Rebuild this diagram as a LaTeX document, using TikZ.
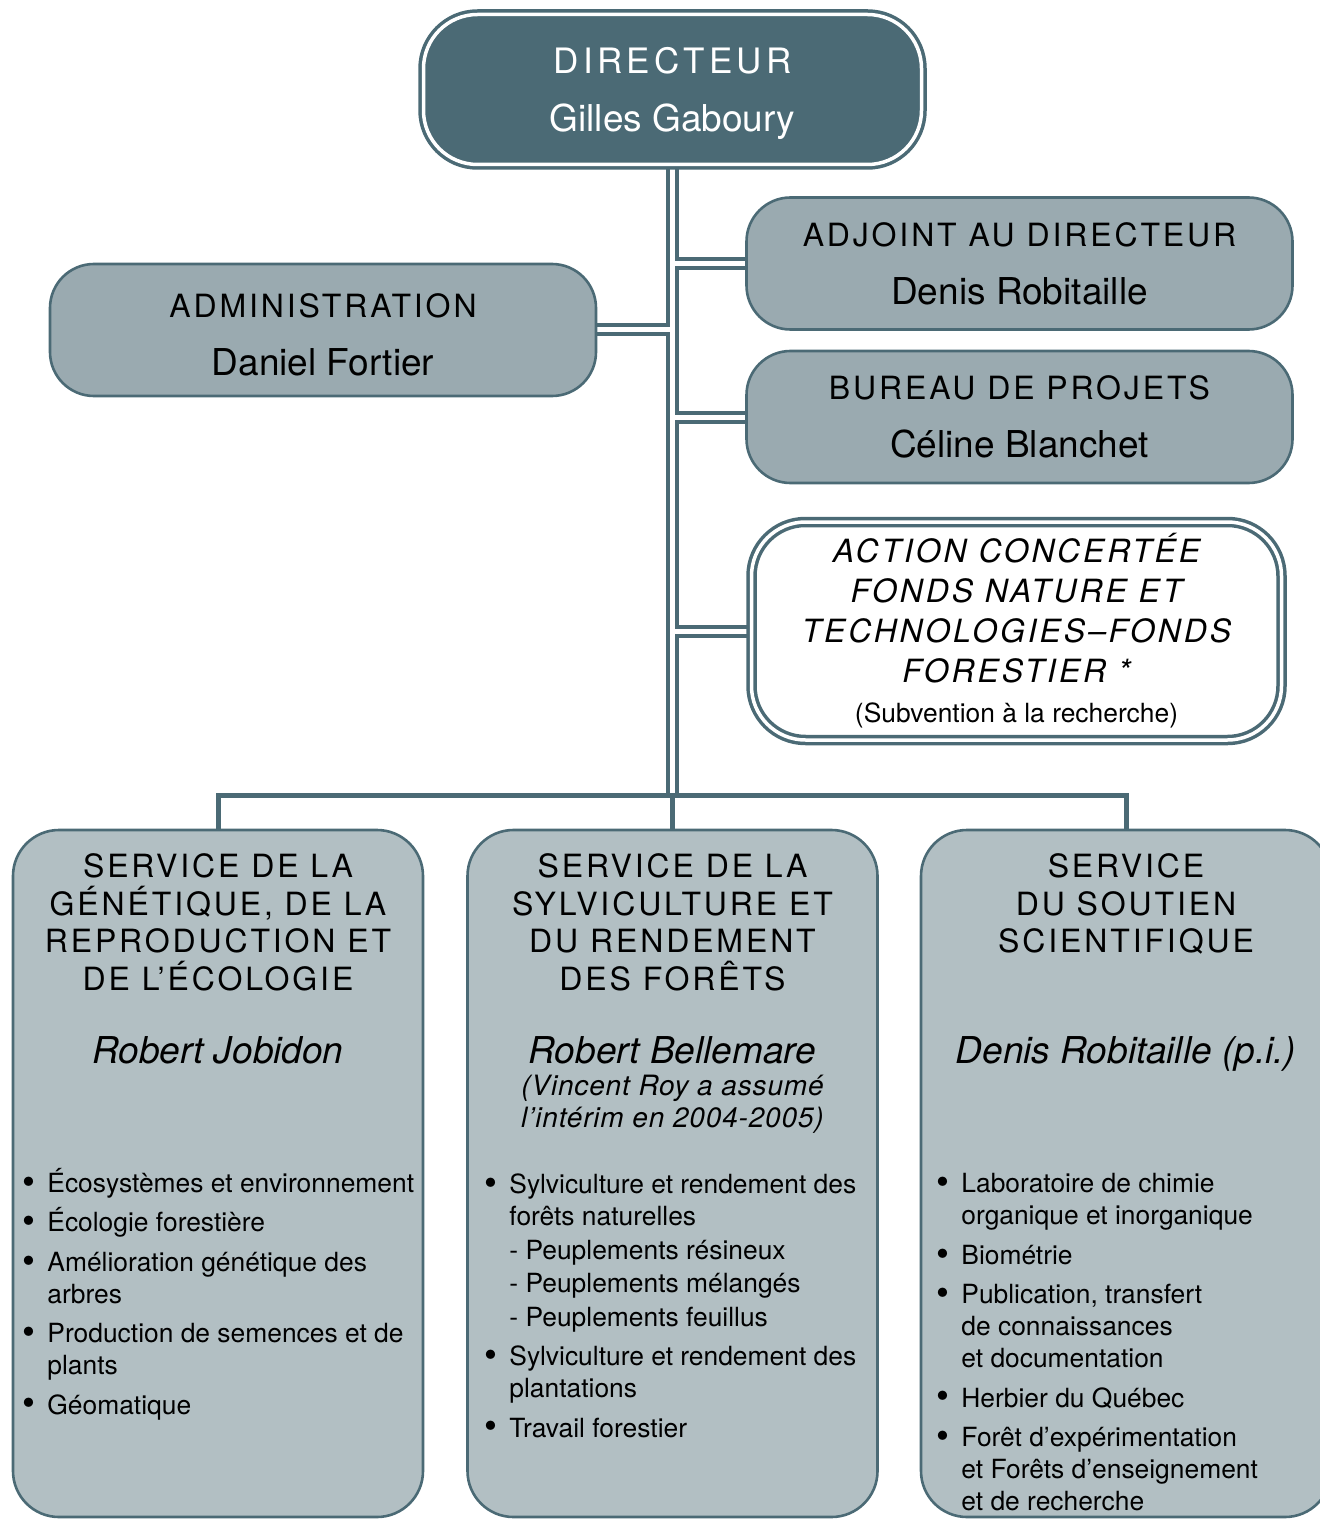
\documentclass[tikz,border=0pt]{standalone}
\usepackage{fontspec}
\setmainfont{TeX Gyre Heros}
\newfontfamily\spacedfont[LetterSpace=9]{TeX Gyre Heros}
\newfontfamily\widefont[LetterSpace=12]{TeX Gyre Heros}
\newfontfamily\notefont[LetterSpace=3]{TeX Gyre Heros}
\usetikzlibrary{positioning,backgrounds}
\definecolor{orgteal}{HTML}{4B6A75}
\definecolor{unitgray}{HTML}{9AAAB0}
\definecolor{servgray}{HTML}{B2BFC3}
\newcommand{\capsize}{\fontsize{16}{18.75}\selectfont}
\newcommand{\namefont}{\fontsize{18.5}{29}\selectfont}
\newcommand{\listfont}{\fontsize{13.2}{16}\selectfont}
\newcommand{\itm}{\makebox[12.3pt][l]{\raisebox{-0.9pt}{\scalebox{1.4}{\textbullet}}}}
\newcommand{\cnt}{\hspace*{12.3pt}}

\begin{document}
\begin{tikzpicture}[
  x=0.5pt, y=-0.5pt,
  chief/.style={draw=orgteal, fill=orgteal, double=white, line width=1.75pt, double distance=1.75pt, rounded corners=27pt, minimum width=249pt, minimum height=75pt, align=center, text=white, text depth=0pt, font=\namefont},
  unit/.style={draw=orgteal, fill=unitgray, line width=1.3pt, rounded corners=22pt, minimum width=273pt, minimum height=66pt, align=center, text depth=0pt, font=\namefont},
  fund/.style={draw=orgteal, fill=white, double=white, line width=1.75pt, double distance=1.75pt, rounded corners=27pt, minimum width=265pt, minimum height=109pt, align=center, font=\spacedfont\itshape\fontsize{16}{20}\selectfont},
  service/.style={draw=orgteal, fill=servgray, line width=1.3pt, rounded corners=23pt, minimum width=205pt, minimum height=343.5pt},
  link/.style={draw=orgteal, double=white, line width=2pt, double distance=2.5pt},
  bar/.style={draw=orgteal, line width=2.5pt},
  servhead/.style={font=\spacedfont\capsize, align=center, anchor=base},
  servchief/.style={font=\namefont\itshape, anchor=base},
  note/.style={font=\notefont\itshape\fontsize{14}{16}\selectfont, align=center, anchor=base},
  duties/.style={font=\listfont, align=left, anchor=base west, inner sep=0pt}
]
\useasboundingbox (0,0) rectangle (1320,1519);

% direction
\node[chief] (chief) at (672.5,89.5) {{\widefont\fontsize{17.5}{29}\selectfont DIRECTEUR}\\Gilles Gaboury};
\node[unit, text height=45.5pt] (admin) at (323,330) {{\spacedfont\capsize ADMINISTRATION}\\Daniel Fortier};
\node[unit] (adjoint) at (1019.5,263.5) {{\spacedfont\capsize ADJOINT AU DIRECTEUR}\\Denis Robitaille};
\node[unit] (bureau) at (1019.5,417) {{\spacedfont\capsize BUREAU DE PROJETS}\\Céline Blanchet};
\node[fund] (fund) at (1016.5,631) {ACTION CONCERTÉE\\FONDS NATURE ET\\TECHNOLOGIES–FONDS\\FORESTIER *\\{\normalfont\listfont (Subvention à la recherche)}};

% services
\node[service] (gen) at (218,1173.5) {};
\node[service] (syl) at (672.5,1173.5) {};
\node[service] (sou) at (1126,1173.5) {};

% multi-line nodes: base = last line
\node[servhead] (genhead) at (218,990) {SERVICE DE LA\\GÉNÉTIQUE, DE LA\\REPRODUCTION ET\\DE L’ÉCOLOGIE};
\node[servhead] (sylhead) at (672.5,990) {SERVICE DE LA\\SYLVICULTURE ET\\DU RENDEMENT\\DES FORÊTS};
\node[servhead] (souhead) at (1126,952.5) {SERVICE\\DU SOUTIEN\\SCIENTIFIQUE};

\node[servchief] (genchief) at (218,1063) {Robert Jobidon};
\node[servchief] (sylchief) at (672.5,1063) {Robert Bellemare};
\node[note] (sylnote) at (672.5,1127) {(Vincent Roy a assumé\\l’intérim en 2004-2005)};
\node[servchief] (souchief) at (1126,1063) {Denis Robitaille (p.i.)};

\node[duties] (genlist) at (22.4,1414) {\itm Écosystèmes et environnement\\[3.7pt]
  \itm Écologie forestière\\[3.7pt]
  \itm Amélioration génétique des\\
  \cnt arbres\\[3.7pt]
  \itm Production de semences et de\\
  \cnt plants\\[3.7pt]
  \itm Géomatique};
\node[duties] (syllist) at (484.4,1437) {\itm Sylviculture et rendement des\\
  \cnt forêts naturelles\\[0.8pt]
  \cnt - Peuplements résineux\\[0.8pt]
  \cnt - Peuplements mélangés\\[0.8pt]
  \cnt - Peuplements feuillus\\[3.7pt]
  \itm Sylviculture et rendement des\\
  \cnt plantations\\[3.7pt]
  \itm Travail forestier};
\node[duties] (soulist) at (936.4,1510.5) {\itm Laboratoire de chimie\\
  \cnt organique et inorganique\\[3.7pt]
  \itm Biométrie\\[3.7pt]
  \itm Publication, transfert\\
  \cnt de connaissances\\
  \cnt et documentation\\[3.7pt]
  \itm Herbier du Québec\\[3.7pt]
  \itm Forêt d’expérimentation\\
  \cnt et Forêts d’enseignement\\
  \cnt et de recherche};

\begin{scope}[on background layer]
\coordinate (hub) at (672.5,795);
\draw[link] (chief.south) -- (hub)
  (adjoint.west -| hub) -- (adjoint.west)
  (admin.east -| hub) -- (admin.east)
  (bureau.west -| hub) -- (bureau.west)
  (fund.west -| hub) -- (fund.west);
\draw[bar] (gen.north) |- (hub) -| (sou.north) (syl.north) -- (hub);
\end{scope}
\end{tikzpicture}
\end{document}
